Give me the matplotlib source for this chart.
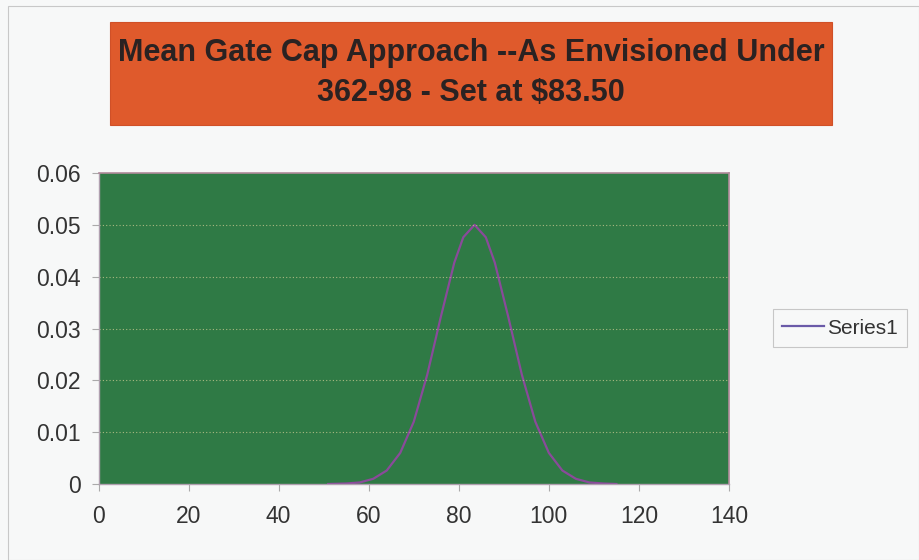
import matplotlib
matplotlib.use("Agg")
import matplotlib.pyplot as plt
from matplotlib.patches import Rectangle

x_vals = [51, 55, 58, 61, 64, 67, 70, 73, 76, 79, 81, 83.5, 86, 88, 91, 94, 97, 100, 103, 106, 109, 112, 115]
y_vals = [0.0000, 0.0001, 0.0003, 0.0010, 0.0026, 0.0060, 0.0120, 0.0211, 0.0322, 0.0427, 0.0476, 0.0500,
          0.0476, 0.0427, 0.0322, 0.0211, 0.0120, 0.0060, 0.0026, 0.0010, 0.0003, 0.0001, 0.0000]
series_name = "Series1"
title_text = "Mean Gate Cap Approach --As Envisioned Under\n362-98 - Set at $83.50"
x_ticks = [0, 20, 40, 60, 80, 100, 120, 140]
y_ticks = [0, 0.01, 0.02, 0.03, 0.04, 0.05, 0.06]
y_labels = ["0", "0.01", "0.02", "0.03", "0.04", "0.05", "0.06"]

plt.rcParams['font.family'] = ['Liberation Sans', 'DejaVu Sans']

W, H = 919, 560
fig = plt.figure(figsize=(W / 100, H / 100), dpi=100)
fig.patch.set_facecolor("#f7f8f8")

# chart border
fig.add_artist(Rectangle((8 / W, 0), (W - 8) / W, (H - 6) / H, transform=fig.transFigure,
                         fill=False, edgecolor="#c8c8c8", lw=0.8))

# title box
fig.add_artist(Rectangle((110 / W, 1 - 125 / H), (832 - 110) / W, (125 - 22) / H,
                         transform=fig.transFigure, facecolor="#df5a2c", edgecolor="#d05028", lw=0.8))
fig.text(471 / W, 1 - 73 / H, title_text, ha="center", va="center", fontsize=22,
         fontweight="bold", color="#2a2222", linespacing=1.4)

ax = fig.add_axes([98.5 / W, 1 - 484 / H, (729 - 98.5) / W, (484 - 173) / H])
ax.set_facecolor("#2f7a45")
line, = ax.plot(x_vals, y_vals, color="#8a4a9a", lw=1.6, label=series_name)
ax.set_xlim(0, 140)
ax.set_ylim(0, 0.06)
ax.set_xticks(x_ticks)
ax.set_yticks(y_ticks)
ax.set_yticklabels(y_labels)
for yv in y_ticks[1:-1]:
    ax.axhline(yv, color="#c8c890", lw=0.8, ls=(0, (1, 2)), alpha=0.8)
for s in ["top", "right"]:
    ax.spines[s].set_color("#b08a9a")
    ax.spines[s].set_linewidth(1.2)
for s in ["left", "bottom"]:
    ax.spines[s].set_color("#b0a0b0")
    ax.spines[s].set_linewidth(1.0)
ax.tick_params(axis="both", labelsize=16.5, colors="#333333", length=5, width=0.8, direction="out")
ax.tick_params(axis="x", pad=10, color="#aaaaaa")
ax.tick_params(axis="y", pad=8, color="#aaaaaa")

leg = fig.legend(handles=[line], labels=[series_name], loc="center left",
                 bbox_to_anchor=(771 / W, 1 - 328 / H),
                 fontsize=15, frameon=True, handlelength=2.0, handletextpad=0.15,
                 borderpad=0.45, borderaxespad=0.1, fancybox=False)
leg.get_lines()[0].set_color("#6a5aa8")
leg.get_frame().set_edgecolor("#bbbbbb")
leg.get_frame().set_facecolor("#f7f8f8")
leg.get_frame().set_linewidth(0.8)
for t in leg.get_texts():
    t.set_color("#333333")

fig.savefig("out.png", dpi=100, facecolor=fig.get_facecolor())
